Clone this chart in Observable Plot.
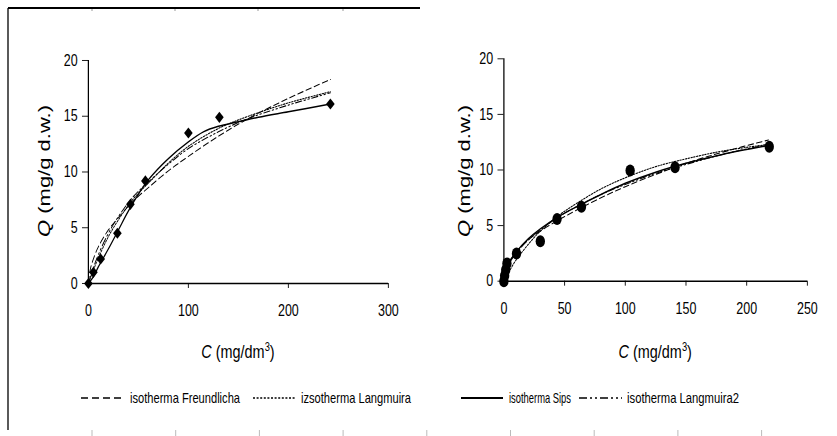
<!DOCTYPE html>
<html><head><meta charset="utf-8">
<script src="https://cdn.jsdelivr.net/npm/d3@7"></script>
<script src="https://cdn.jsdelivr.net/npm/@observablehq/plot@0.6"></script>
<style>
body{margin:0;background:#fff}
#root{position:relative;width:837px;height:436px;overflow:hidden;background:#fff;font-family:"Liberation Sans",Arial,sans-serif}
</style>
</head><body><div id="root"></div>
<script>
// ---------- data ----------
const seriesNames = ["isotherma Freundlicha", "izsotherma Langmuira", "isotherma Sips", "isotherma Langmuira2"];
const yTicks = [0, 5, 10, 15, 20];
const leftXTicks = [0, 100, 200, 300];
const rightXTicks = [0, 50, 100, 150, 200, 250];

// left panel: measured points (diamonds)
const leftC = [0, 5, 12.3, 29, 42, 57, 100, 131, 242];
const leftQ = [0, 1.0, 2.2, 4.5, 7.1, 9.2, 13.5, 14.9, 16.1];
// left panel model curves
const leftFreundC = [0, 2, 5, 10, 20, 30, 45, 60, 80, 100, 130, 160, 200, 242];
const leftFreundQ = [0, 1.3, 2.2, 3.3, 4.8, 5.9, 7.4, 8.6, 10.1, 11.4, 13.2, 14.8, 16.6, 18.3];
const leftLangC = [0, 5, 10, 20, 30, 45, 60, 80, 100, 130, 160, 200, 242];
const leftLangQ = [0, 1.2, 2.3, 4.2, 5.7, 7.6, 9.0, 10.8, 12.3, 13.9, 15.0, 16.2, 17.2];
const leftSipsC = [0, 5, 10, 20, 30, 40, 50, 60, 80, 100, 115, 130, 150, 170, 200, 242];
const leftSipsQ = [0, 0.6, 1.5, 3.1, 4.8, 6.5, 8.0, 9.3, 11.2, 12.7, 13.6, 14.1, 14.5, 14.9, 15.4, 16.1];
const leftLang2C = [0, 5, 10, 20, 30, 45, 60, 80, 100, 130, 160, 200, 242];
const leftLang2Q = [0, 1.4, 2.6, 4.5, 6.0, 7.8, 9.1, 10.7, 12.1, 13.6, 14.8, 16.0, 17.1];

// right panel: measured points (circles)
const rightC = [0, 0.6, 1.5, 2.5, 10.4, 30, 43.8, 63.9, 104, 141, 218.6];
const rightQ = [0, 0.5, 1.0, 1.6, 2.5, 3.6, 5.6, 6.7, 9.95, 10.25, 12.1];
// right panel model curves
const rightFreundC = [0, 1, 3, 10, 20, 30, 45, 60, 80, 100, 125, 150, 180, 218];
const rightFreundQ = [0, 0.8, 1.4, 2.6, 3.7, 4.5, 5.5, 6.4, 7.5, 8.5, 9.6, 10.6, 11.6, 12.7];
const rightLangC = [0, 2, 5, 10, 20, 30, 45, 60, 80, 100, 125, 150, 180, 218];
const rightLangQ = [0, 0.4, 1.0, 1.9, 3.3, 4.5, 5.9, 7.0, 8.3, 9.3, 10.3, 11.0, 11.7, 12.3];
const rightSipsC = [0, 1, 3, 10, 20, 30, 45, 60, 80, 100, 125, 150, 180, 218];
const rightSipsQ = [0, 0.9, 1.5, 2.6, 3.8, 4.7, 5.8, 6.7, 7.8, 8.8, 9.8, 10.6, 11.4, 12.2];
const rightLang2C = [0, 1, 3, 10, 20, 30, 45, 60, 80, 100, 125, 150, 180, 218];
const rightLang2Q = [0, 0.7, 1.3, 2.5, 3.7, 4.6, 5.8, 6.7, 7.8, 8.7, 9.7, 10.5, 11.4, 12.3];

// ---------- styles ----------
const SX = 0.78; // horizontal squeeze of the original picture
const lineStyles = [
  {dash: "7,4", w: 1.1},
  {dash: "2,1.6", w: 1.1},
  {dash: null, w: 1.5},
  {dash: "8,3,2,3,2,3", w: 1.1}
];
const toRows = (C, Q) => C.map((c, i) => ({C: c, Q: Q[i]}));
const root = document.getElementById("root");

function makePanel(o) {
  const W = o.width / SX;
  const curves = o.curves.map(([C, Q], i) =>
    Plot.line(toRows(C, Q), {x: "C", y: "Q", curve: "catmull-rom", stroke: "black",
      strokeWidth: lineStyles[i].w, strokeDasharray: lineStyles[i].dash}));
  const svg = Plot.plot({
    width: W, height: 340,
    marginLeft: o.ml / SX, marginRight: o.mr / SX, marginTop: o.mt, marginBottom: o.mb,
    x: {domain: o.xDomain},
    y: {domain: [0, 20]},
    style: {fontFamily: '"Liberation Sans", Arial, sans-serif', fontSize: "16px", color: "black", background: "transparent", overflow: "visible"},
    marks: [
      ...curves,
      Plot.ruleY([0], {stroke: "black", strokeWidth: 1.4}),
      Plot.ruleX([0], {stroke: "black", strokeWidth: 1.6}),
      Plot.axisX({ticks: o.xTicks, tickSize: 5, tickPadding: 16, label: null, tickFormat: d => String(d)}),
      Plot.axisY({ticks: yTicks, tickSize: 7.7, tickPadding: 6, label: null}),
      Plot.dot(toRows(o.pC, o.pQ), {x: "C", y: "Q", symbol: o.symbol, r: o.r, fill: "black", stroke: "none"})
    ]
  });
  svg.style.position = "absolute";
  svg.style.left = o.left + "px";
  svg.style.top = "0px";
  svg.style.transformOrigin = "0 0";
  svg.style.transform = `scaleX(${SX})`;
  const s = d3.select(svg);
  // x title
  const cx = (o.ml / SX + (W - o.mr / SX)) / 2;
  const xt = s.append("text").attr("x", cx).attr("y", 358).attr("text-anchor", "middle")
    .attr("font-size", 18.5).attr("fill", "black");
  xt.append("tspan").attr("font-style", "italic").text("C");
  xt.append("tspan").text(" (mg/dm");
  xt.append("tspan").attr("font-size", 12).attr("dy", -7).text("3");
  xt.append("tspan").attr("dy", 7).text(")");
  // y title
  const yt = s.append("text").attr("transform", `translate(${o.ytx / SX},171) rotate(-90)`)
    .attr("text-anchor", "middle").attr("font-size", 20).attr("fill", "black")
    .attr("textLength", 132).attr("lengthAdjust", "spacingAndGlyphs");
  yt.append("tspan").attr("font-style", "italic").text("Q");
  yt.append("tspan").text(" (mg/g d.w.)");
  root.appendChild(svg);
}

makePanel({left: 0, width: 420, ml: 88, mr: 32, mt: 60, mb: 57, xDomain: [0, 300], xTicks: leftXTicks,
  pC: leftC, pQ: leftQ, symbol: "diamond2", r: 5, ytx: 49.5,
  curves: [[leftFreundC, leftFreundQ], [leftLangC, leftLangQ], [leftSipsC, leftSipsQ], [leftLang2C, leftLang2Q]]});
makePanel({left: 420, width: 417, ml: 83.5, mr: 30, mt: 58.3, mb: 59.3, xDomain: [0, 250], xTicks: rightXTicks,
  pC: rightC, pQ: rightQ, symbol: "circle", r: 6, ytx: 49.5,
  curves: [[rightFreundC, rightFreundQ], [rightLangC, rightLangQ], [rightSipsC, rightSipsQ], [rightLang2C, rightLang2Q]]});

// ---------- frame + legend overlay ----------
const ov = d3.select(root).append("svg").attr("width", 837).attr("height", 436)
  .style("position", "absolute").style("left", 0).style("top", 0);
ov.append("line").attr("x1", 8).attr("x2", 420).attr("y1", 8).attr("y2", 8).attr("stroke", "black").attr("stroke-width", 2);
ov.append("line").attr("x1", 8).attr("x2", 8).attr("y1", 8).attr("y2", 430).attr("stroke", "black").attr("stroke-width", 1.3);
[92, 175, 258, 343].forEach(x => ov.append("line").attr("x1", x).attr("x2", x).attr("y1", 9).attr("y2", 11).attr("stroke", "#999"));
d3.range(9).forEach(k => { const x = 92 + 83.7 * k;
  ov.append("line").attr("x1", x).attr("x2", x).attr("y1", 430).attr("y2", 436).attr("stroke", "#bbb"); });

const legendPos = [
  {x1: 81, x2: 124, tx: 130, len: 110},
  {x1: 253, x2: 295, tx: 301, len: 110},
  {x1: 461, x2: 503, tx: 509, len: 62},
  {x1: 579, x2: 622, tx: 627, len: 112}
];
const ly = 398;
seriesNames.forEach((name, i) => {
  const p = legendPos[i];
  ov.append("line").attr("x1", p.x1).attr("x2", p.x2).attr("y1", ly).attr("y2", ly)
    .attr("stroke", "black").attr("stroke-width", i === 2 ? 1.8 : 1.3)
    .attr("stroke-dasharray", lineStyles[i].dash);
  ov.append("text").attr("x", p.tx).attr("y", ly + 5)
    .attr("textLength", p.len).attr("lengthAdjust", "spacingAndGlyphs")
    .attr("font-size", 15).attr("fill", "black").text(name);
});
</script>
</body></html>
